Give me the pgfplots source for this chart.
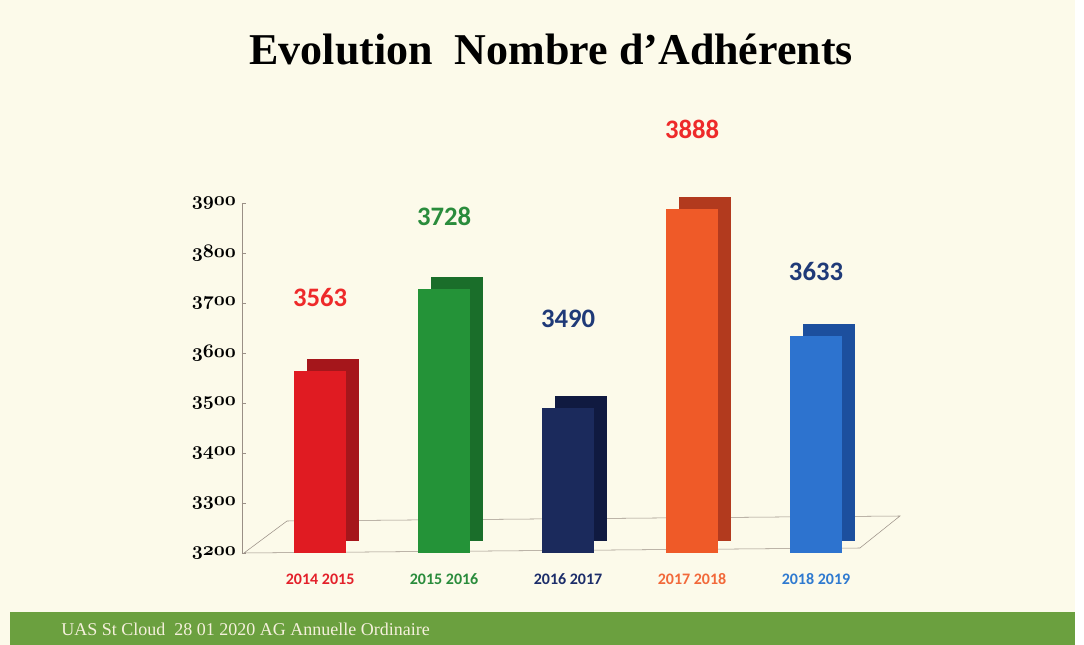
\documentclass[border=0pt]{standalone}
\usepackage{pgfplots}
\pgfplotsset{compat=1.18}
\usepackage{fontspec}
\setmainfont{Liberation Serif}
\newfontfamily\carlito{Carlito}
\definecolor{bg}{HTML}{FCFAEA}
\definecolor{footg}{HTML}{6BA03F}
\definecolor{foott}{HTML}{F5F0DC}
\definecolor{redF}{HTML}{E01B22}\definecolor{redS}{HTML}{A5161B}
\definecolor{grnF}{HTML}{249338}\definecolor{grnS}{HTML}{1A6E2A}
\definecolor{navF}{HTML}{1B2A5C}\definecolor{navS}{HTML}{101A40}
\definecolor{orgF}{HTML}{EF5A28}\definecolor{orgS}{HTML}{B23A1E}
\definecolor{bluF}{HTML}{2D73CF}\definecolor{bluS}{HTML}{1C4F9E}
\definecolor{labR}{HTML}{EE2A2A}\definecolor{labG}{HTML}{2A8C3C}
\definecolor{labN}{HTML}{1F3A78}
\definecolor{catR}{HTML}{E3202A}\definecolor{catG}{HTML}{2A8C3C}
\definecolor{catN}{HTML}{1C2D6A}\definecolor{catO}{HTML}{F2693A}
\definecolor{catB}{HTML}{2F7AD0}
\definecolor{axl}{HTML}{9A8F86}
\begin{document}
\begin{tikzpicture}
\fill[bg] (-181.5pt,-69pt) rectangle (631.5pt,414.75pt);
\fill[white] (625pt,-69pt) rectangle (631.5pt,414.75pt);
\fill[footg] (-174pt,-69pt) rectangle (625pt,-44.25pt);
\node[anchor=west,text=foott,font=\fontsize{13.5}{15}\selectfont] at (-139pt,-57pt) {UAS St Cloud\ \ 28 01 2020 AG Annuelle Ordinaire};
\node[font=\fontsize{33}{38}\selectfont\bfseries] at (232pt,378pt) {Evolution\ \ Nombre d’Adhérents};
\begin{axis}[
  at={(0pt,0pt)}, anchor=south west,
  scale only axis, width=500.25pt, height=337.5pt,
  xmin=-0.63, xmax=4.75, ymin=3200, ymax=4100,
  ybar, clip mode=individual,
  every axis plot/.append style={bar shift=0pt, bar width=39pt, draw=none},
  axis line style={draw=none},
  xtick={0,1,2,3,4},
  xticklabels={{\color{catR}2014 2015},{\color{catG}2015 2016},{\color{catN}2016 2017},{\color{catO}2017 2018},{\color{catB}2018 2019}},
  xticklabel style={font=\carlito\bfseries\fontsize{12}{14}\selectfont, yshift=-9pt},
  xtick style={draw=none},
  ytick={3200,3300,...,3900},
  yticklabels={$\mathnormal{3200}$,$\mathnormal{3300}$,$\mathnormal{3400}$,$\mathnormal{3500}$,$\mathnormal{3600}$,$\mathnormal{3700}$,$\mathnormal{3800}$,$\mathnormal{3900}$},
  yticklabel style={font=\boldmath\fontsize{14}{16}\selectfont, xshift=-1pt},
  ytick style={draw=axl, thin},
  major tick length=3pt,
  tick pos=left,
  nodes near coords={\pgfmathprintnumber[1000 sep={},assume math mode=true]{\pgfplotspointmeta}},
  nodes near coords align={vertical},
  every node near coord/.append style={font=\carlito\bfseries\fontsize{20}{24}\selectfont},
]
% floor
\draw[axl, thin] (axis cs:-0.614,3200) -- (axis cs:4.354,3210) -- (axis cs:4.677,3274) -- (axis cs:-0.267,3264) -- cycle;
\draw[axl, semithick] (axis cs:-0.63,3200) -- (axis cs:-0.63,3900);
% side faces
\addplot[fill=redS, xshift=10pt, yshift=9pt, nodes near coords=\empty] coordinates {(0,3563)};
\addplot[fill=grnS, xshift=10pt, yshift=9pt, nodes near coords=\empty] coordinates {(1,3728)};
\addplot[fill=navS, xshift=10pt, yshift=9pt, nodes near coords=\empty] coordinates {(2,3490)};
\addplot[fill=orgS, xshift=10pt, yshift=9pt, nodes near coords=\empty] coordinates {(3,3888)};
\addplot[fill=bluS, xshift=10pt, yshift=9pt, nodes near coords=\empty] coordinates {(4,3633)};
% front faces
\addplot[fill=redF, every node near coord/.append style={text=labR, yshift=45pt}] coordinates {(0,3563)};
\addplot[fill=grnF, every node near coord/.append style={text=labG, yshift=44pt}] coordinates {(1,3728)};
\addplot[fill=navF, every node near coord/.append style={text=labN, yshift=57pt}] coordinates {(2,3490)};
\addplot[fill=orgF, every node near coord/.append style={text=labR, yshift=49pt}] coordinates {(3,3888)};
\addplot[fill=bluF, every node near coord/.append style={text=labN, yshift=38pt}] coordinates {(4,3633)};
\end{axis}
\end{tikzpicture}
\end{document}
